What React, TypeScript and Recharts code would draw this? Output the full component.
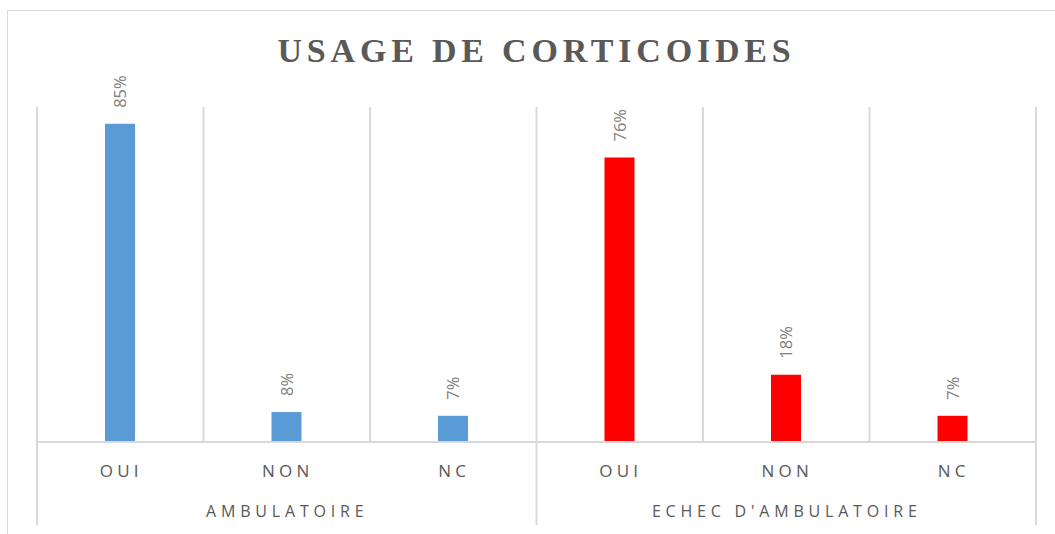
import React from "react";
import { BarChart, Bar, XAxis, YAxis, Cell, LabelList, ReferenceLine } from "recharts";

const categories = ["OUI", "NON", "NC", "OUI", "NON", "NC"];
const values = [85, 8, 7, 76, 18, 7];
const groups = ["AMBULATOIRE", "ECHEC D'AMBULATOIRE"];
const groupOf = [0, 0, 0, 1, 1, 1];
const groupColors = ["#5b9bd5", "#ff0000"];
const title = "USAGE DE CORTICOIDES";

const data = categories.map((c, i) => ({ pos: i + 0.5, value: values[i], cat: c, group: groupOf[i] }));
const boundaries = categories.map((_, i) => i).concat([categories.length]);
const tickValues: number[] = [];
boundaries.forEach((b) => {
  tickValues.push(b);
  if (b < categories.length) tickValues.push(b + 0.5);
});
const groupBounds = [0, 3, 6];
const groupCenters = [1.5, 4.5];

const W = 1055;
const H = 534;

const AxisTick = (props: any) => {
  const { x, y, payload } = props;
  const v = payload.value as number;
  if (groupBounds.includes(v)) {
    return <line x1={x} x2={x} y1={y} y2={y + 83} stroke="#d9d9d9" strokeWidth={2} />;
  }
  if (Math.abs(v - Math.floor(v) - 0.5) < 1e-6) {
    const idx = Math.floor(v);
    const gi = groupCenters.indexOf(v);
    return (
      <g>
        <text x={x + 1} y={y + 35} textAnchor="middle" fill="#595959"
          style={{ fontFamily: "'Open Sans'", fontSize: 17, letterSpacing: 4.2 }}>
          {categories[idx]}
        </text>
        {gi >= 0 && (
          <text x={x + 0.5} y={y + 75} textAnchor="middle" fill="#595959"
            style={{ fontFamily: "'Open Sans'", fontSize: 16, letterSpacing: 4.8 }}>
            {groups[gi]}
          </text>
        )}
      </g>
    );
  }
  return <g />;
};

const BarLabel = (props: any) => {
  const { x, y, width, value } = props;
  const cx = x + width / 2;
  const ty = y - 16;
  return (
    <text x={cx} y={ty} transform={`rotate(-90 ${cx} ${ty})`} textAnchor="start" dominantBaseline="central"
      fill="#7f7f7f" style={{ fontFamily: "'Open Sans'", fontSize: 16.5 }}>
      {`${value}%`}
    </text>
  );
};

export default function App() {
  return (
    <div style={{ position: "relative", width: W, height: H, overflow: "hidden", background: "#fff" }}>
      <style>{`body{margin:0;}`}</style>
      <div style={{ position: "absolute", left: 7, top: 10, width: W, height: H, border: "1px solid #d9d9d9", boxSizing: "border-box" }} />
      <div style={{ position: "absolute", left: 37, top: 34, width: 999, textAlign: "center", fontFamily: "'Liberation Serif'", fontWeight: "bold", fontSize: 34, lineHeight: "34px", letterSpacing: 4.8, color: "#595959" }}>
        {title}
      </div>
      <div style={{ position: "absolute", left: 0, top: 0 }}>
        <BarChart width={W} height={H} data={data} margin={{ top: 107, right: 19, bottom: 0, left: 37 }}>
          <XAxis dataKey="pos" type="number" domain={[0, categories.length]} ticks={tickValues} interval={0}
            tickLine={false} tickSize={0} tickMargin={0} height={92} axisLine={{ stroke: "#d9d9d9", strokeWidth: 2 }}
            tick={<AxisTick />} allowDataOverflow />
          <YAxis hide domain={[0, 89.5]} />
          {boundaries.map((b) => (
            <ReferenceLine key={b} x={b} stroke="#d9d9d9" strokeWidth={2} />
          ))}
          <Bar dataKey="value" barSize={30} isAnimationActive={false}>
            {data.map((d, i) => (
              <Cell key={i} fill={groupColors[d.group]} />
            ))}
            <LabelList dataKey="value" content={<BarLabel />} />
          </Bar>
        </BarChart>
      </div>
    </div>
  );
}
